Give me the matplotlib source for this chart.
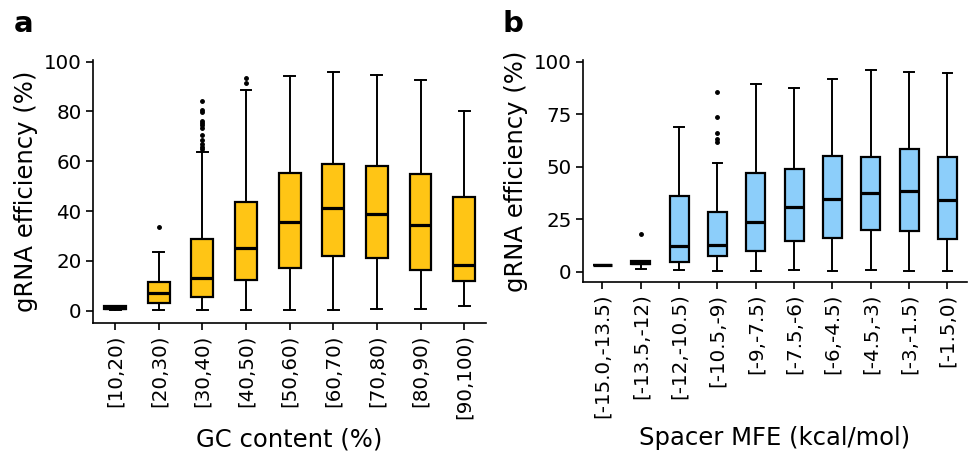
import matplotlib
matplotlib.use("Agg")
import matplotlib.pyplot as plt

# panel a: GC content bins
gc_labels = ["[10,20)", "[20,30)", "[30,40)", "[40,50)", "[50,60)",
             "[60,70)", "[70,80)", "[80,90)", "[90,100)"]
gc_whislo = [0.4, 0.1, 0.1, 0.4, 0.4, 0.4, 0.8, 0.7, 1.7]
gc_q1 = [0.6, 3.2, 5.6, 12.2, 17.3, 21.8, 21.2, 16.5, 11.8]
gc_med = [1.0, 7.1, 13.1, 25.0, 35.5, 41.1, 39.0, 34.3, 18.3]
gc_q3 = [1.8, 11.6, 28.9, 43.5, 55.4, 58.9, 58.1, 54.8, 45.6]
gc_whishi = [2.0, 23.6, 63.7, 88.5, 94.2, 95.7, 94.8, 92.5, 80.2]
gc_fliers = [[], [33.7],
             [65.0, 65.9, 66.8, 68.5, 70.7, 73.4, 74.4, 75.2, 76.2, 79.7, 80.6, 84.3],
             [91.6, 93.3], [], [], [], [], []]

# panel b: spacer MFE bins
mfe_labels = ["[-15.0,-13.5)", "[-13.5,-12)", "[-12,-10.5)", "[-10.5,-9)", "[-9,-7.5)",
              "[-7.5,-6)", "[-6,-4.5)", "[-4.5,-3)", "[-3,-1.5)", "[-1.5,0)"]
mfe_whislo = [3.0, 1.3, 0.6, 0.5, 0.5, 0.8, 0.5, 0.6, 0.2, 0.2]
mfe_q1 = [3.0, 3.4, 4.4, 7.3, 9.8, 14.4, 16.2, 19.8, 19.4, 15.7]
mfe_med = [3.0, 4.2, 12.1, 12.5, 23.5, 30.6, 34.4, 37.5, 38.3, 34.1]
mfe_q3 = [3.0, 5.0, 35.9, 28.3, 47.1, 49.0, 55.2, 54.8, 58.3, 54.4]
mfe_whishi = [3.0, 5.2, 68.7, 51.7, 89.5, 87.3, 91.6, 95.9, 94.9, 94.6]
mfe_fliers = [[], [18.1], [], [61.6, 63.2, 66.0, 73.7, 85.7], [], [], [], [], [], []]


def make_stats(labels, lo, q1, med, q3, hi, fl):
    return [dict(label=l, whislo=a, q1=b, med=c, q3=d, whishi=e, fliers=f)
            for l, a, b, c, d, e, f in zip(labels, lo, q1, med, q3, hi, fl)]


def draw_panel(ax, stats, color, xlabel):
    ax.bxp(stats, widths=0.5, patch_artist=True,
           boxprops=dict(facecolor=color, edgecolor="black", linewidth=1.6),
           medianprops=dict(color="black", linewidth=2.3),
           whiskerprops=dict(color="black", linewidth=1.4),
           capprops=dict(color="black", linewidth=1.4),
           flierprops=dict(marker="o", markerfacecolor="black", markeredgecolor="black",
                           markersize=2.5, linestyle="none"))
    ax.set_xlim(0.5, len(stats) + 0.5)
    ax.set_ylim(-4.8, 100.8)
    ax.spines["top"].set_visible(False)
    ax.spines["right"].set_visible(False)
    for s in ["left", "bottom"]:
        ax.spines[s].set_linewidth(1.2)
    ax.tick_params(labelsize=14.3, width=1.2, length=5)
    ax.tick_params(axis="x", labelrotation=90)
    ax.set_ylabel("gRNA efficiency (%)", fontsize=17.5)
    ax.set_xlabel(xlabel, fontsize=17.5, labelpad=6)


fig = plt.figure(figsize=(9.68, 4.57), dpi=100)
ax1 = fig.add_axes([0.0964, 0.2939, 0.4057, 0.5755])
ax2 = fig.add_axes([0.6026, 0.3836, 0.3960, 0.4850])

draw_panel(ax1, make_stats(gc_labels, gc_whislo, gc_q1, gc_med, gc_q3, gc_whishi, gc_fliers),
           "#FFC515", "GC content (%)")
ax1.set_yticks([0, 20, 40, 60, 80, 100])

draw_panel(ax2, make_stats(mfe_labels, mfe_whislo, mfe_q1, mfe_med, mfe_q3, mfe_whishi, mfe_fliers),
           "#8CCEFA", "Spacer MFE (kcal/mol)")
ax2.set_yticks([0, 25, 50, 75, 100])

fig.text(14 / 968, 1 - 32 / 457, "a", fontsize=21, fontweight="bold")
fig.text(503 / 968, 1 - 32 / 457, "b", fontsize=21, fontweight="bold")

fig.savefig("out.png", dpi=100)
